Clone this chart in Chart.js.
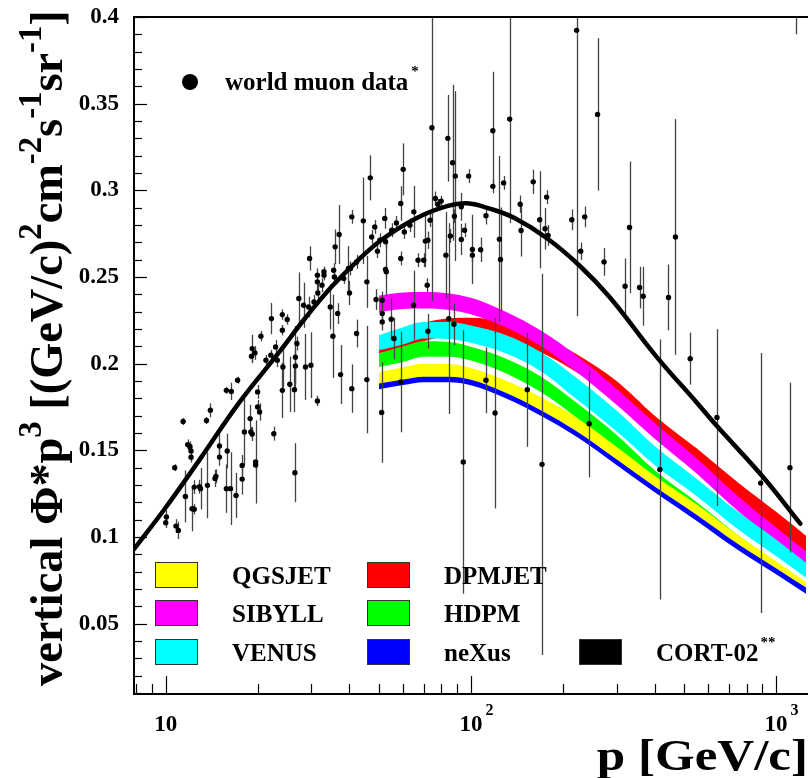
<!DOCTYPE html>
<html>
<head>
<meta charset="utf-8">
<script src="https://cdn.jsdelivr.net/npm/chart.js@4.4.1/dist/chart.umd.min.js"></script>
<style>
  html, body { margin:0; padding:0; background:#fff; }
  #wrap { width:810px; height:778px; }
</style>
</head>
<body>
<div id="wrap"><canvas id="chart" width="810" height="778"></canvas></div>
<script>
// world muon data: momentum (GeV/c), vertical flux * p^3, error
const MUON_P = [
  10.05, 10.0, 10.8, 11.0, 10.7, 11.4, 11.6, 11.8, 12.0, 12.1,
  12.1, 12.2, 12.4, 12.4, 13.0, 12.9, 13.6, 13.7, 14.0, 14.5,
  14.6, 15.0, 15.0, 15.8, 16.4, 15.8, 15.9, 16.3, 17.0, 17.2,
  17.8, 17.8, 18.1, 18.9, 19.0, 19.2, 19.7, 19.7, 20.0, 20.0,
  20.3, 22.6, 24.1, 25.5, 26.4, 26.5, 19.1, 19.2, 19.6, 20.5,
  21.3, 22.1, 22.2, 22.9, 23.2, 24.1, 24.1, 24.2, 25.0, 26.6,
  26.6, 26.9, 27.3, 28.3, 28.7, 29.4, 29.6, 29.9, 30.6, 31.4,
  31.4, 31.4, 31.5, 33.0, 33.0, 34.6, 35.3, 35.5, 35.7, 36.6,
  37.4, 38.3, 40.0, 40.3, 40.7, 42.2, 42.2, 45.6, 45.6, 48.9,
  51.0, 51.2, 51.2, 51.2, 52.8, 54.8, 56.0, 58.9, 58.9, 64.9,
  67.1, 70.0, 72.3, 71.9, 82.8, 84.6, 88.0, 94.4,
  32.5, 35.9, 37.0, 39.7, 40.7, 44.4, 46.8, 47.3, 48.4, 49.4,
  50.3, 52.2, 52.5, 52.5, 55.0, 57.0, 58.9, 60.0, 60.5, 63.1,
  65.0, 70.9, 72.3, 73.5, 74.5, 76.5, 77.9, 79.9, 84.0, 85.6,
  87.1, 88.9, 88.3, 93.0, 95.3, 93.0, 98.3, 101.1, 101.1,
  107.6, 112, 112, 118, 118, 120, 124, 125, 128, 134,
  145, 146, 153, 160, 168, 171, 175, 177, 179, 214,
  222, 229, 236, 244, 260, 273, 320, 331, 357, 367,
  416, 444, 468, 523, 640, 890, 1110, 1160
];
const MUON_FLUX = [
  0.1115, 0.1082, 0.1063, 0.1038, 0.140, 0.1666, 0.1234, 0.1533, 0.1521, 0.1496,
  0.1460, 0.1163, 0.1160, 0.1288, 0.1279, 0.1290, 0.1672, 0.1298, 0.1731, 0.1338,
  0.1350, 0.1525, 0.1461, 0.1846, 0.1840, 0.1279, 0.1496, 0.1279, 0.1240, 0.1904,
  0.1413, 0.1334, 0.1606, 0.1683, 0.1606, 0.1594, 0.1433, 0.1415, 0.1837, 0.1750,
  0.1721, 0.1596, 0.1846, 0.1881, 0.1850, 0.1371, 0.2043, 0.2087, 0.2062, 0.2158,
  0.2020, 0.2049, 0.2260, 0.2096, 0.2020, 0.2283, 0.2193, 0.1981, 0.2255, 0.2037,
  0.1987, 0.2116, 0.2376, 0.2337, 0.1981, 0.2327, 0.2607, 0.1991, 0.2356, 0.1785,
  0.2510, 0.2472, 0.2408, 0.2510, 0.2530, 0.2327, 0.2158, 0.2539, 0.2500, 0.2289,
  0.1937, 0.2491, 0.2408, 0.2549, 0.1856, 0.2174, 0.2587, 0.2472, 0.1908, 0.2370,
  0.1718, 0.2366, 0.2289, 0.2241, 0.2530, 0.2256, 0.2145, 0.2607, 0.1894, 0.2337,
  0.2597, 0.2597, 0.2187, 0.2453, 0.2626, 0.2260, 0.2227, 0.1433,
  0.2453, 0.2674, 0.2745, 0.2549, 0.2847, 0.2824, 0.3072, 0.2731, 0.2789, 0.2649,
  0.2712, 0.2838, 0.2543, 0.2703, 0.2770, 0.2812, 0.2924, 0.3121, 0.2760, 0.2799,
  0.2876, 0.2707, 0.2712, 0.2828, 0.3361, 0.2953, 0.2920, 0.2938, 0.3300, 0.2737,
  0.3159, 0.3082, 0.2851, 0.2717, 0.2770, 0.2905, 0.3082, 0.2659, 0.2626,
  0.2657, 0.2853, 0.1904, 0.3344, 0.3023, 0.1715, 0.2718, 0.2601, 0.3043, 0.3411,
  0.2920, 0.2768, 0.1850, 0.3049, 0.2830, 0.1419, 0.2778, 0.2961, 0.2740, 0.2830,
  0.3923, 0.2649, 0.2847, 0.1654, 0.3438, 0.2587, 0.2447, 0.2786, 0.2439, 0.2389,
  0.1389, 0.2382, 0.2731, 0.2029, 0.1689, 0.1311, 0.1400, 0.4300
];
const MUON_ERR = [
  0.004, 0.003, 0.004, 0.005, 0.002, 0.002, 0.015, 0.003, 0.003, 0.004,
  0.003, 0.013, 0.003, 0.004, 0.012, 0.004, 0.002, 0.019, 0.004, 0.005,
  0.004, 0.008, 0.005, 0.002, 0.005, 0.014, 0.010, 0.021, 0.013, 0.002,
  0.006, 0.009, 0.019, 0.008, 0.003, 0.004, 0.024, 0.003, 0.004, 0.004,
  0.005, 0.004, 0.016, 0.016, 0.013, 0.017, 0.004, 0.008, 0.004, 0.003,
  0.003, 0.003, 0.009, 0.004, 0.004, 0.003, 0.003, 0.012, 0.003, 0.018,
  0.010, 0.004, 0.015, 0.013, 0.019, 0.006, 0.007, 0.019, 0.004, 0.003,
  0.004, 0.005, 0.006, 0.003, 0.003, 0.013, 0.024, 0.004, 0.004, 0.006,
  0.017, 0.003, 0.007, 0.004, 0.014, 0.008, 0.004, 0.015, 0.031, 0.006,
  0.029, 0.005, 0.006, 0.005, 0.004, 0.012, 0.012, 0.004, 0.029, 0.020,
  0.004, 0.004, 0.010, 0.004, 0.025, 0.055, 0.012, 0.076,
  0.004, 0.010, 0.017, 0.013, 0.004, 0.025, 0.013, 0.004, 0.004, 0.004,
  0.004, 0.006, 0.015, 0.004, 0.004, 0.004, 0.010, 0.015, 0.004, 0.004,
  0.015, 0.015, 0.005, 0.004, 0.100, 0.004, 0.003, 0.003, 0.025, 0.004,
  0.045, 0.049, 0.004, 0.009, 0.004, 0.008, 0.004, 0.020, 0.004,
  0.007, 0.005, 0.019, 0.034, 0.004, 0.055, 0.048, 0.030, 0.004, 0.060,
  0.005, 0.015, 0.033, 0.007, 0.028, 0.110, 0.012, 0.004, 0.006, 0.006,
  0.165, 0.005, 0.006, 0.031, 0.044, 0.008, 0.016, 0.038, 0.012, 0.017,
  0.075, 0.019, 0.068, 0.015, 0.051, 0.075, 0.049, 0.040
];

// CORT-02 prediction
const CORT_P = [7.87, 10, 12.9, 17.4, 23.5, 28.7, 35, 42, 51, 66, 84, 97, 116, 139, 178, 228, 286, 406, 550, 640, 906, 1200];
const CORT_FLUX = [0.093, 0.117, 0.1445, 0.1775, 0.2065, 0.2265, 0.2445, 0.2585, 0.2715, 0.2838, 0.2910, 0.2925, 0.2893, 0.2840, 0.2722, 0.2562, 0.2380, 0.2039, 0.1775, 0.1640, 0.1346, 0.1077];

// model bands (lower / upper edge) at these momenta
const BAND_P = [50, 60, 70, 85, 100, 130, 170, 220, 300, 400, 550, 750, 1000, 1300];
const NEXUS_LO  = [0.1853, 0.1877, 0.1893, 0.1893, 0.1875, 0.1800, 0.1698, 0.1582, 0.1416, 0.1258, 0.1093, 0.0925, 0.0785, 0.0655];
const NEXUS_HI  = [0.1885, 0.1909, 0.1925, 0.1925, 0.1907, 0.1832, 0.1730, 0.1614, 0.1448, 0.1291, 0.1127, 0.0960, 0.0820, 0.0690];
const QGSJET_LO = [0.1885, 0.1909, 0.1925, 0.1925, 0.1907, 0.1832, 0.1730, 0.1614, 0.1448, 0.1291, 0.1127, 0.0960, 0.0820, 0.0690];
const QGSJET_HI = [0.1952, 0.1980, 0.2000, 0.1998, 0.1975, 0.1903, 0.1806, 0.1694, 0.1521, 0.1354, 0.1187, 0.1011, 0.0860, 0.0720];
const HDPM_LO   = [0.1981, 0.2010, 0.2040, 0.2040, 0.2018, 0.1945, 0.1835, 0.1694, 0.1500, 0.1330, 0.1160, 0.0990, 0.0840, 0.0700];
const HDPM_HI   = [0.2060, 0.2100, 0.2130, 0.2125, 0.2098, 0.2030, 0.1925, 0.1780, 0.1590, 0.1385, 0.1200, 0.1011, 0.0855, 0.0715];
const VENUS_LO  = [0.2077, 0.2110, 0.2145, 0.2142, 0.2120, 0.2060, 0.1955, 0.1800, 0.1610, 0.1415, 0.1235, 0.1045, 0.0890, 0.0745];
const VENUS_HI  = [0.2164, 0.2210, 0.2240, 0.2240, 0.2220, 0.2165, 0.2065, 0.1923, 0.1730, 0.1525, 0.1335, 0.1145, 0.0985, 0.0830];
const SIBYLL_LO = [0.2298, 0.2315, 0.2318, 0.2310, 0.2285, 0.2210, 0.2100, 0.1957, 0.1763, 0.1567, 0.1365, 0.1150, 0.0975, 0.0825];
const SIBYLL_HI = [0.2393, 0.2410, 0.2413, 0.2405, 0.2380, 0.2300, 0.2190, 0.2052, 0.1856, 0.1658, 0.1453, 0.1235, 0.1055, 0.0895];
const DPMJET_LO = [0.2060, 0.2090, 0.2130, 0.2160, 0.2165, 0.2135, 0.2065, 0.1955, 0.1790, 0.1595, 0.1405, 0.1210, 0.1040, 0.0880];
const DPMJET_HI = [0.2150, 0.2195, 0.2235, 0.2262, 0.2265, 0.2240, 0.2170, 0.2058, 0.1900, 0.1700, 0.1510, 0.1315, 0.1145, 0.0985];

// axes
const Y_TICKS = [0.05, 0.1, 0.15, 0.2, 0.25, 0.3, 0.35, 0.4];
const Y_TICK_LABELS = ['0.05', '0.1', '0.15', '0.2', '0.25', '0.3', '0.35', '0.4'];
const X_TICKS = [10, 100, 1000];
const X_TICK_LABELS = ['10', '10', '10'];
const X_TICK_EXP = ['', '2', '3'];

const SERIF = '"Liberation Serif", "Times New Roman", serif';

function pts(xs, ys) { return xs.map((x, i) => ({ x: x, y: ys[i] })); }

function band(lo, hi, color) {
  return [
    { data: pts(BAND_P, lo), borderWidth: 0, borderColor: 'transparent', pointRadius: 0, fill: false, cubicInterpolationMode: 'monotone', clip: 0 },
    { data: pts(BAND_P, hi), borderWidth: 0, borderColor: 'transparent', pointRadius: 0, fill: '-1', backgroundColor: color, cubicInterpolationMode: 'monotone', clip: 0 }
  ];
}

// legend entries (model bands)
const LEGEND = [
  { label: 'QGSJET', color: '#ffff00', col: 0, row: 0 },
  { label: 'DPMJET', color: '#ff0000', col: 1, row: 0 },
  { label: 'SIBYLL', color: '#ff00ff', col: 0, row: 1 },
  { label: 'HDPM',   color: '#00ff00', col: 1, row: 1 },
  { label: 'VENUS',  color: '#00ffff', col: 0, row: 2 },
  { label: 'neXus',  color: '#0000ff', col: 1, row: 2 },
  { label: 'CORT-02', sup: '**', color: '#000000', col: 2, row: 2 }
];

const decor = {
  id: 'decor',
  beforeDatasetDraw(chart, args) {
    if (args.index !== 1) return;
    // error bars of the muon data
    const { ctx, chartArea: a, scales: { x, y } } = chart;
    ctx.save();
    ctx.beginPath();
    ctx.rect(a.left, a.top, a.right - a.left, a.bottom - a.top);
    ctx.clip();
    ctx.strokeStyle = '#444';
    ctx.lineWidth = 1.3;
    MUON_P.forEach((p, i) => {
      const px = Math.round(x.getPixelForValue(p)) + 0.5;
      ctx.beginPath();
      ctx.moveTo(px, y.getPixelForValue(MUON_FLUX[i] - MUON_ERR[i]));
      ctx.lineTo(px, y.getPixelForValue(MUON_FLUX[i] + MUON_ERR[i]));
      ctx.stroke();
    });
    ctx.restore();
  },
  afterDraw(chart) {
    const { ctx, chartArea: a, scales: { x, y } } = chart;
    ctx.save();
    ctx.strokeStyle = '#000';
    ctx.fillStyle = '#000';

    // frame
    ctx.lineWidth = 2;
    ctx.beginPath();
    ctx.moveTo(a.left, a.top);
    ctx.lineTo(a.right + 2, a.top);
    ctx.moveTo(a.left, a.top - 1);
    ctx.lineTo(a.left, a.bottom + 1);
    ctx.lineTo(a.right + 2, a.bottom + 1);
    ctx.stroke();

    // y ticks (inside)
    ctx.lineWidth = 1.2;
    for (let k = 1; k <= 40; k++) {
      const py = Math.round(y.getPixelForValue(k / 100)) + 0.5;
      const len = k % 5 === 0 ? 13 : 8;
      ctx.beginPath();
      ctx.moveTo(a.left, py);
      ctx.lineTo(a.left + len, py);
      ctx.stroke();
    }
    // x ticks (inside)
    for (const d of [1, 10, 100, 1000]) {
      for (let k = 1; k <= 9; k++) {
        const v = k * d;
        if (v < x.min || v > x.max) continue;
        const px = Math.round(x.getPixelForValue(v)) + 0.5;
        const len = k === 1 ? 17 : 9;
        ctx.beginPath();
        ctx.moveTo(px, a.bottom);
        ctx.lineTo(px, a.bottom - len);
        ctx.stroke();
      }
    }

    // x tick labels with exponents
    X_TICKS.forEach((t, i) => {
      const px = x.getPixelForValue(t);
      ctx.font = 'bold 23px ' + SERIF;
      ctx.textAlign = 'center';
      ctx.textBaseline = 'alphabetic';
      const w = ctx.measureText(X_TICK_LABELS[i]).width;
      ctx.fillText(X_TICK_LABELS[i], px, a.bottom + 38);
      if (X_TICK_EXP[i]) {
        ctx.font = 'bold 16px ' + SERIF;
        ctx.textAlign = 'left';
        ctx.fillText(X_TICK_EXP[i], px + w / 2 + 3, a.bottom + 22);
      }
    });

    // x title, a little wider than the plain font
    ctx.font = 'bold 44px ' + SERIF;
    ctx.textAlign = 'right';
    ctx.setTransform(1.16, 0, 0, 1, 808, 770);
    ctx.fillText('p [GeV/c]', 0, 0);
    ctx.setTransform(1, 0, 0, 1, 0, 0);

    // y title
    const parts = [['vertical \u03A6*p', 0], ['3', 1], [' [(GeV/c)', 0], ['2', 1], ['cm', 0], ['-2', 1], ['s', 0], ['-1', 1], ['sr', 0], ['-1', 1], [']', 0]];
    let main = 34, sub = 24, total = 0;
    parts.forEach(([t, s]) => { ctx.font = 'bold ' + (s ? sub : main) + 'px ' + SERIF; total += ctx.measureText(t).width; });
    const k = 676 / total;
    main *= k; sub *= k;
    ctx.translate(62, 686);
    ctx.rotate(-Math.PI / 2);
    ctx.textAlign = 'left';
    let cx = 0;
    parts.forEach(([t, s]) => {
      ctx.font = 'bold ' + (s ? sub : main) + 'px ' + SERIF;
      ctx.fillText(t, cx, s ? -main * 0.45 : 0);
      cx += ctx.measureText(t).width;
    });
    ctx.setTransform(1, 0, 0, 1, 0, 0);

    // legend: data marker
    ctx.beginPath();
    ctx.arc(190, 82, 8, 0, Math.PI * 2);
    ctx.fill();
    ctx.font = 'bold 25px ' + SERIF;
    ctx.textAlign = 'left';
    ctx.fillText('world muon data', 225, 90);
    const ww = ctx.measureText('world muon data').width;
    ctx.font = 'bold 15px ' + SERIF;
    ctx.fillText('*', 225 + ww + 3, 76);

    // legend: bands
    const colX = [155, 367, 579], rowY = [575, 613, 652];
    LEGEND.forEach(e => {
      const bx = colX[e.col], by = rowY[e.row];
      ctx.fillStyle = e.color;
      ctx.fillRect(bx, by - 13, 43, 26);
      ctx.strokeStyle = '#333';
      ctx.lineWidth = 1;
      ctx.strokeRect(bx + 0.5, by - 12.5, 42, 25);
      ctx.fillStyle = '#000';
      ctx.font = 'bold 25px ' + SERIF;
      ctx.fillText(e.label, bx + 77, by + 9);
      if (e.sup) {
        const lw = ctx.measureText(e.label).width;
        ctx.font = 'bold 15px ' + SERIF;
        ctx.fillText(e.sup, bx + 77 + lw + 2, by - 5);
      }
    });
    ctx.restore();
  }
};

const ctx = document.getElementById('chart');

new Chart(ctx, {
  type: 'line',
  data: {
    datasets: [
      { label: 'CORT-02', data: pts(CORT_P, CORT_FLUX), borderColor: '#000', borderWidth: 4.5, pointRadius: 0, fill: false, tension: 0.4, borderCapStyle: 'round', clip: 0 },
      { label: 'world muon data', data: pts(MUON_P, MUON_FLUX), showLine: false, pointRadius: 2.7, pointBackgroundColor: '#000', pointBorderWidth: 0, clip: 0 },
      ...band(NEXUS_LO, NEXUS_HI, '#0000ff'),
      ...band(QGSJET_LO, QGSJET_HI, '#ffff00'),
      ...band(HDPM_LO, HDPM_HI, '#00ff00'),
      ...band(VENUS_LO, VENUS_HI, '#00ffff'),
      ...band(SIBYLL_LO, SIBYLL_HI, '#ff00ff'),
      ...band(DPMJET_LO, DPMJET_HI, '#ff0000')
    ]
  },
  options: {
    responsive: false,
    animation: false,
    devicePixelRatio: 1,
    layout: { padding: { top: 17, right: 0, left: 0, bottom: 0 } },
    plugins: { legend: { display: false }, tooltip: { enabled: false } },
    scales: {
      x: {
        type: 'logarithmic', min: 7.87, max: 1253,
        grid: { display: false }, border: { display: false },
        ticks: { display: false },
        afterFit(s) { s.height = 85; }
      },
      y: {
        type: 'linear', min: 0.01, max: 0.4,
        grid: { display: false, drawTicks: false }, border: { display: false },
        afterBuildTicks(s) { s.ticks = Y_TICKS.map(v => ({ value: v })); },
        ticks: {
          color: '#000', padding: 15,
          font: { family: SERIF, weight: 'bold', size: 23 },
          callback: (v, i) => Y_TICK_LABELS[i]
        },
        afterFit(s) { s.width = 134; s.paddingTop = 0; s.paddingBottom = 0; }
      }
    }
  },
  plugins: [decor]
});
</script>
</body>
</html>
